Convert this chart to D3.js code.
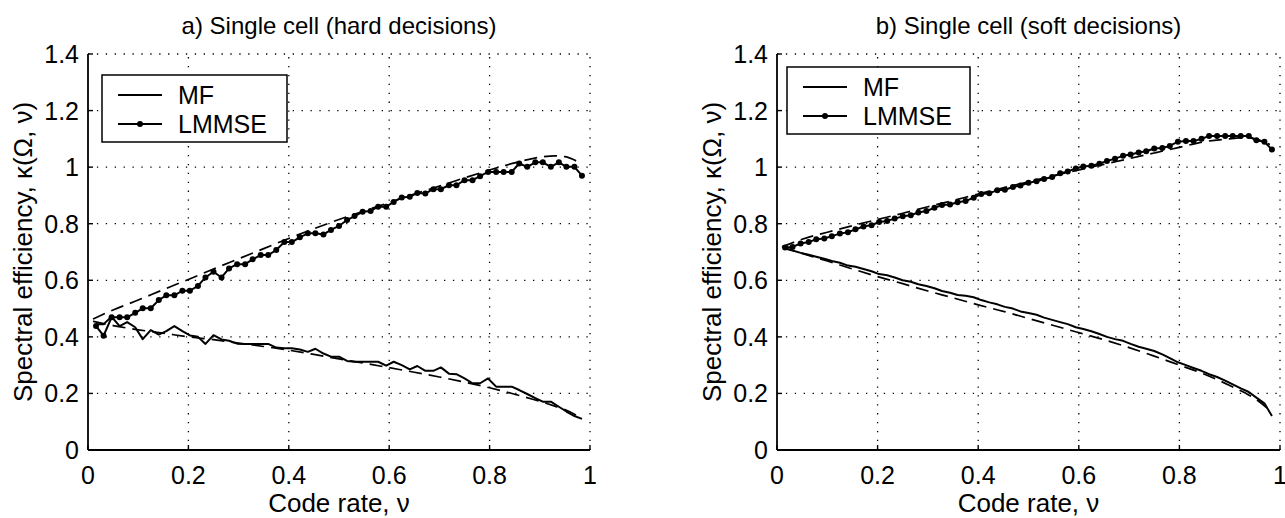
<!DOCTYPE html>
<html>
<head>
<meta charset="utf-8">
<script src="https://cdn.jsdelivr.net/npm/d3@7"></script>
<style>
  html, body { margin: 0; padding: 0; background: #fff; }
  svg { display: block; font-family: "Liberation Sans", Arial, Helvetica, sans-serif; }
  .grid line { stroke: #000; stroke-width: 1.3; stroke-dasharray: 1.3 7.6; }
  .tick-lbl { font-size: 25px; fill: #000; }
  .leg-lbl { font-size: 25px; fill: #000; }
  .ttl { font-size: 24px; }
  .axlbl { font-size: 26px; }
</style>
</head>
<body>
<div id="chart"></div>
<script>
// code rates of the simulated points (k/64)
const codeRate = [0.016,0.031,0.047,0.063,0.078,0.094,0.109,0.125,0.141,0.156,0.172,0.188,0.203,0.219,0.234,0.250,
  0.266,0.281,0.297,0.313,0.328,0.344,0.359,0.375,0.391,0.406,0.422,0.438,0.453,0.469,0.484,0.500,
  0.516,0.531,0.547,0.563,0.578,0.594,0.609,0.625,0.641,0.656,0.672,0.688,0.703,0.719,0.734,0.750,
  0.766,0.781,0.797,0.813,0.828,0.844,0.859,0.875,0.891,0.906,0.922,0.938,0.953,0.969,0.984];

// a) hard decisions
const hardMF = [0.445,0.445,0.471,0.438,0.452,0.434,0.392,0.424,0.408,0.420,0.438,0.420,0.405,0.400,0.375,0.406,
  0.391,0.386,0.376,0.375,0.375,0.375,0.375,0.362,0.360,0.360,0.355,0.347,0.358,0.341,0.330,0.330,
  0.315,0.312,0.312,0.312,0.312,0.298,0.312,0.300,0.285,0.297,0.280,0.280,0.292,0.270,0.268,0.253,
  0.236,0.236,0.253,0.224,0.224,0.224,0.212,0.198,0.183,0.171,0.171,0.153,0.136,0.120,0.110];
const hardLMMSE = [0.438,0.404,0.469,0.469,0.469,0.485,0.501,0.501,0.530,0.547,0.547,0.563,0.563,0.580,0.610,0.630,
  0.610,0.642,0.657,0.657,0.674,0.689,0.689,0.707,0.735,0.735,0.752,0.766,0.766,0.762,0.778,0.792,
  0.813,0.827,0.842,0.845,0.860,0.860,0.877,0.893,0.895,0.909,0.907,0.922,0.922,0.936,0.936,0.954,
  0.954,0.968,0.983,0.983,0.983,0.983,1.013,1.001,1.017,1.017,1.001,1.017,1.001,1.001,0.970];

// b) soft decisions
const softMF = [0.712,0.705,0.697,0.690,0.683,0.676,0.668,0.662,0.652,0.648,0.640,0.632,0.622,0.618,0.610,0.600,
  0.595,0.586,0.580,0.572,0.562,0.556,0.548,0.545,0.540,0.530,0.522,0.515,0.506,0.500,0.490,0.484,
  0.478,0.468,0.460,0.452,0.445,0.434,0.428,0.420,0.410,0.400,0.392,0.386,0.375,0.365,0.358,0.350,
  0.338,0.325,0.310,0.300,0.290,0.280,0.268,0.258,0.245,0.232,0.218,0.205,0.185,0.165,0.120];
const softLMMSE = [0.716,0.718,0.730,0.735,0.745,0.748,0.756,0.765,0.770,0.780,0.790,0.795,0.806,0.810,0.818,0.826,
  0.830,0.840,0.845,0.856,0.866,0.868,0.876,0.880,0.892,0.905,0.908,0.918,0.920,0.930,0.935,0.945,
  0.950,0.958,0.965,0.978,0.985,0.995,1.002,1.005,1.012,1.022,1.030,1.040,1.045,1.052,1.056,1.066,
  1.068,1.075,1.090,1.092,1.092,1.100,1.110,1.110,1.110,1.110,1.110,1.110,1.095,1.090,1.062];

// analytical curves (dashed)
const theoryRate = [0.01,0.05,0.10,0.15,0.20,0.25,0.30,0.35,0.40,0.45,0.50,0.55,0.60,0.65,0.70,0.75,0.80,0.85,0.90,0.93,0.95,0.98];
const hardMFTheory = [0.455,0.440,0.425,0.413,0.400,0.390,0.378,0.366,0.353,0.338,0.322,0.307,0.291,0.275,0.258,0.240,0.220,0.197,0.172,0.155,0.143,0.115];
const hardLMMSETheory = [0.463,0.495,0.530,0.567,0.603,0.640,0.676,0.712,0.748,0.782,0.815,0.845,0.875,0.905,0.933,0.962,0.990,1.015,1.035,1.040,1.037,1.015];
const softMFTheory = [0.718,0.695,0.668,0.640,0.613,0.588,0.562,0.538,0.513,0.490,0.465,0.440,0.415,0.390,0.362,0.332,0.300,0.268,0.228,0.202,0.182,0.140];
const softLMMSETheory = [0.718,0.745,0.770,0.793,0.815,0.837,0.860,0.882,0.905,0.927,0.948,0.970,0.990,1.010,1.030,1.050,1.070,1.090,1.100,1.105,1.100,1.080];

const xTicks = [0, 0.2, 0.4, 0.6, 0.8, 1];
const xTickLabels = ["0", "0.2", "0.4", "0.6", "0.8", "1"];
const yTicks = [0, 0.2, 0.4, 0.6, 0.8, 1, 1.2, 1.4];
const yTickLabels = ["0", "0.2", "0.4", "0.6", "0.8", "1", "1.2", "1.4"];
const legendNames = ["MF", "LMMSE"];

const panels = [
  { title: "a) Single cell (hard decisions)", x0: 88, x1: 590, mf: hardMF, lm: hardLMMSE, mfT: hardMFTheory, lmT: hardLMMSETheory,
    leg: { x: 102, y: 75, w: 185, h: 67 } },
  { title: "b) Single cell (soft decisions)", x0: 777, x1: 1280, mf: softMF, lm: softLMMSE, mfT: softMFTheory, lmT: softLMMSETheory,
    leg: { x: 787, y: 67, w: 183, h: 67 } }
];

const W = 1285, H = 518, yTop = 54, yBot = 450;
const svg = d3.select("#chart").append("svg").attr("width", W).attr("height", H);
svg.append("rect").attr("width", W).attr("height", H).attr("fill", "#fff");

const y = d3.scaleLinear().domain([0, 1.4]).range([yBot, yTop]);

panels.forEach((p) => {
  const x = d3.scaleLinear().domain([0, 1]).range([p.x0, p.x1]);
  const g = svg.append("g");

  // dotted grid
  const grid = g.append("g").attr("class", "grid");
  grid.selectAll(".gx").data(xTicks.filter((t) => t > 0)).join("line")
    .attr("x1", (t) => x(t)).attr("x2", (t) => x(t)).attr("y1", yBot).attr("y2", yTop);
  grid.selectAll(".gy").data(yTicks.filter((t) => t > 0)).join("line")
    .attr("x1", p.x0).attr("x2", p.x1).attr("y1", (t) => y(t)).attr("y2", (t) => y(t));

  // axes: left + bottom only, inward ticks
  const ax = g.append("g").attr("class", "axes");
  ax.append("line").attr("x1", p.x0).attr("x2", p.x1).attr("y1", yBot).attr("y2", yBot).attr("stroke", "#000").attr("stroke-width", 1.8);
  ax.append("line").attr("x1", p.x0).attr("x2", p.x0).attr("y1", yBot).attr("y2", yTop).attr("stroke", "#000").attr("stroke-width", 1.8);
  ax.selectAll(".tx").data(xTicks).join("line")
    .attr("x1", (t) => x(t)).attr("x2", (t) => x(t)).attr("y1", yBot).attr("y2", yBot - 5).attr("stroke", "#000").attr("stroke-width", 1.4);
  ax.selectAll(".ty").data(yTicks).join("line")
    .attr("x1", p.x0).attr("x2", p.x0 + 5).attr("y1", (t) => y(t)).attr("y2", (t) => y(t)).attr("stroke", "#000").attr("stroke-width", 1.4);

  ax.selectAll(".xl").data(xTicks).join("text").attr("class", "tick-lbl")
    .attr("x", (t) => x(t)).attr("y", 484).attr("text-anchor", "middle")
    .text((t, i) => xTickLabels[i]);
  ax.selectAll(".yl").data(yTicks).join("text").attr("class", "tick-lbl")
    .attr("x", p.x0 - 9).attr("y", (t) => y(t)).attr("dy", "0.36em").attr("text-anchor", "end")
    .text((t, i) => yTickLabels[i]);

  const cx = (p.x0 + p.x1) / 2;
  g.append("text").attr("class", "ttl").attr("x", cx).attr("y", 34).attr("text-anchor", "middle").text(p.title);
  g.append("text").attr("class", "axlbl").attr("x", cx).attr("y", 512).attr("text-anchor", "middle").text("Code rate, ν");
  g.append("text").attr("class", "axlbl").attr("text-anchor", "middle")
    .attr("transform", `translate(${p.x0 - 56},${(yTop + yBot) / 2}) rotate(-90)`)
    .text("Spectral efficiency, κ(Ω, ν)");

  // curves
  const lineT = d3.line().x((d, i) => x(theoryRate[i])).y((d) => y(d)).curve(d3.curveMonotoneX);
  const lineS = d3.line().x((d, i) => x(codeRate[i])).y((d) => y(d));
  [p.mfT, p.lmT].forEach((s) => {
    g.append("path").attr("d", lineT(s)).attr("fill", "none").attr("stroke", "#000")
      .attr("stroke-width", 1.7).attr("stroke-dasharray", "13 7");
  });
  [p.mf, p.lm].forEach((s) => {
    g.append("path").attr("d", lineS(s)).attr("fill", "none").attr("stroke", "#000")
      .attr("stroke-width", 2).attr("stroke-linejoin", "round");
  });
  g.selectAll(".dot").data(p.lm).join("circle")
    .attr("cx", (d, i) => x(codeRate[i])).attr("cy", (d) => y(d)).attr("r", 3).attr("fill", "#000");

  // legend
  const L = p.leg;
  const lg = g.append("g").attr("class", "legend");
  lg.append("rect").attr("x", L.x).attr("y", L.y).attr("width", L.w).attr("height", L.h)
    .attr("fill", "#fff").attr("stroke", "#000").attr("stroke-width", 1.5);
  legendNames.forEach((nm, i) => {
    const ry = L.y + 20 + i * 29;
    lg.append("line").attr("x1", L.x + 16).attr("x2", L.x + 60).attr("y1", ry).attr("y2", ry)
      .attr("stroke", "#000").attr("stroke-width", 2);
    if (i === 1) lg.append("circle").attr("cx", L.x + 38).attr("cy", ry).attr("r", 3).attr("fill", "#000");
    lg.append("text").attr("class", "leg-lbl").attr("x", L.x + 76).attr("y", ry).attr("dy", "0.36em").text(nm);
  });
});
</script>
</body>
</html>
